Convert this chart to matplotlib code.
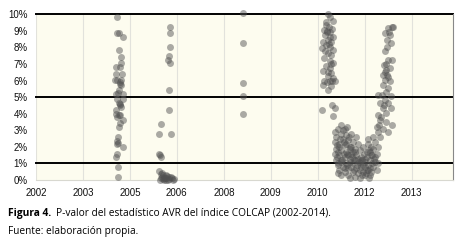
import matplotlib
matplotlib.use("Agg")
import matplotlib.pyplot as plt

# tick labels (evenly spaced on the axis, as in the original)
year_labels = ["2002", "2003", "2005", "2006", "2008", "2009", "2010", "2012", "2013"]
pct_ticks = list(range(0, 11))

# p-values in %, x is position along the axis (tick units)
x_2005 = [1.72, 1.72, 1.77, 1.85, 1.77, 1.82, 1.82, 1.70, 1.79, 1.70, 1.83, 1.73, 1.82, 1.68,
          1.79, 1.81, 1.80, 1.77, 1.70, 1.85, 1.75, 1.72, 1.86, 1.78, 1.78, 1.76, 1.70, 1.82,
          1.70, 1.77, 1.80, 1.73, 1.85, 1.78, 1.77, 1.75, 1.72, 1.75, 1.73, 1.85, 1.73, 1.71,
          1.75, 1.74]
y_2005 = [9.83, 8.85, 8.85, 8.65, 7.85, 7.4, 7.05, 6.8, 6.8, 6.4, 6.4, 6.05, 6.05, 6.05,
          5.8, 5.7, 5.9, 5.45, 5.2, 5.2, 5.25, 4.87, 4.87, 4.6, 4.5, 4.65, 4.2, 4.4,
          4.0, 3.95, 3.9, 3.8, 3.6, 3.45, 3.2, 2.6, 2.35, 2.25, 2.2, 2.0, 1.6, 1.4,
          0.8, 0.2]

x_2006 = [2.85, 2.85, 2.85, 2.84, 2.82, 2.85, 2.83, 2.84, 2.66, 2.62, 2.87, 2.63, 2.66, 2.64,
          2.63, 2.66, 2.69, 2.77, 2.84, 2.91, 2.73, 2.84, 2.64, 2.87, 2.94, 2.68, 2.71, 2.75,
          2.80, 2.89, 2.66, 2.78, 2.70, 2.72, 2.82, 2.76]
y_2006 = [9.25, 8.85, 8.03, 7.45, 7.25, 7.05, 5.45, 4.2, 3.4, 2.8, 2.8, 1.6, 1.4, 1.5,
          0.55, 0.35, 0.2, 0.1, 0.05, 0.0, 0.0, 0.2, 0.0, 0.2, 0.05, 0.45, 0.3, 0.15,
          0.25, 0.1, 0.1, 0.0, 0.05, 0.15, 0.0, 0.3]

x_2008 = [4.41, 4.41, 4.41, 4.41, 4.41]
y_2008 = [10.05, 8.25, 5.85, 5.05, 4.0]

x_2010 = [6.22, 6.25, 6.32, 6.18, 6.24, 6.13, 6.20, 6.27, 6.16, 6.32, 6.22, 6.11, 6.29, 6.18,
          6.25, 6.09, 6.32, 6.22, 6.29, 6.14, 6.25, 6.32, 6.18, 6.27, 6.11, 6.29, 6.22, 6.32,
          6.14, 6.25, 6.36, 6.11, 6.29, 6.22, 6.09, 6.30, 6.36, 6.32,
          6.20, 6.26, 6.15, 6.28, 6.21, 6.30, 6.19, 6.24, 6.30, 6.17]
y_2010 = [10.0, 9.85, 9.6, 9.35, 9.25, 9.05, 8.95, 8.95, 8.75, 8.65, 8.45, 8.35, 8.3, 8.15,
          8.05, 7.95, 7.85, 7.65, 7.55, 7.35, 7.15, 7.05, 6.85, 6.75, 6.55, 6.45, 6.25, 6.15,
          5.95, 5.95, 5.95, 5.7, 5.65, 5.45, 4.25, 4.55, 4.35, 3.85,
          9.0, 8.6, 7.8, 7.0, 6.5, 6.0, 5.9, 8.2, 9.1, 9.5]

x_2011 = [6.50, 6.43, 6.57, 6.37, 6.50, 6.61, 6.39, 6.54, 6.64, 6.36, 6.46, 6.57, 6.68, 6.39,
          6.50, 6.61, 6.36, 6.46, 6.57, 6.68, 6.39, 6.50, 6.61, 6.43, 6.54, 6.64, 6.46, 6.57,
          6.50, 6.43,
          6.71, 6.82, 6.75, 6.86, 6.79, 6.89, 6.96, 6.71, 6.82, 6.93, 6.68, 6.79, 6.89, 7.00,
          6.71, 6.82, 6.93, 6.75, 6.86, 6.96, 6.64, 6.79, 6.89, 6.68, 7.00,
          7.07, 7.18, 7.04, 7.14, 7.25, 7.00, 7.11, 7.21, 7.07, 7.18, 7.29, 7.04, 7.14, 7.25,
          7.11, 7.00,
          6.45, 6.55, 6.65, 6.75, 6.85, 6.95, 7.05, 7.15, 6.40, 6.52, 6.62, 6.72, 6.90, 7.02,
          7.20, 6.48, 6.60, 6.80, 6.98, 7.10, 6.42, 6.58, 6.70, 6.84, 6.95, 7.08, 6.78, 6.66,
          6.53, 6.62,
          6.44, 6.56, 6.68, 6.77, 6.88, 6.97, 7.06, 7.16, 6.49, 6.63, 6.74, 6.92, 7.12, 6.41]
y_2011 = [3.3, 3.1, 3.1, 2.9, 2.8, 2.7, 2.6, 2.5, 2.4, 2.3, 2.2, 2.1, 2.0, 1.9,
          1.8, 1.7, 1.6, 1.5, 1.4, 1.3, 1.2, 1.1, 1.0, 0.9, 0.8, 0.7, 0.6, 0.5,
          0.3, 0.4,
          2.8, 2.6, 2.3, 2.2, 1.9, 1.8, 2.0, 1.6, 1.5, 1.4, 1.1, 1.2, 1.0, 1.1,
          0.8, 0.7, 0.8, 0.5, 0.4, 0.5, 0.3, 0.2, 0.15, 0.1, 0.3,
          2.2, 1.9, 1.7, 1.5, 1.6, 1.3, 1.2, 1.1, 0.9, 0.8, 1.0, 0.6, 0.5, 0.6,
          0.3, 0.8,
          2.0, 1.6, 1.5, 1.0, 1.3, 1.2, 1.4, 1.0, 1.4, 1.2, 0.9, 1.4, 0.6, 0.4,
          1.3, 2.5, 2.2, 1.7, 1.6, 1.8, 1.0, 0.7, 2.0, 0.9, 0.3, 0.1, 0.6, 2.6,
          3.0, 3.2,
          1.7, 2.3, 1.9, 1.3, 1.1, 0.9, 0.6, 1.5, 1.2, 1.6, 1.7, 1.2, 0.7, 2.1]

x_2012 = [7.57, 7.50, 7.60, 7.44, 7.53, 7.48, 7.56, 7.43, 7.50, 7.59, 7.41, 7.46, 7.53, 7.39,
          7.48, 7.44, 7.53, 7.39, 7.50, 7.29, 7.36, 7.56, 7.43, 7.32, 7.50, 7.39, 7.56, 7.29,
          7.46, 7.32, 7.57, 7.25, 7.39, 7.29, 7.50, 7.18, 7.32, 7.21, 7.07, 7.14, 7.29, 7.11,
          7.21,
          7.46, 7.42, 7.50, 7.45, 7.40, 7.35, 7.45, 7.30, 7.52, 7.47]
y_2012 = [9.25, 9.15, 9.2, 8.85, 8.75, 8.45, 8.25, 7.75, 7.25, 7.25, 6.95, 6.65, 6.75, 6.35,
          6.35, 6.05, 5.95, 5.75, 5.55, 5.15, 5.15, 5.05, 4.85, 4.65, 4.65, 4.35, 4.35, 3.95,
          4.05, 3.6, 3.3, 3.2, 3.1, 2.9, 2.9, 2.6, 2.6, 2.3, 2.5, 2.0, 2.0, 1.7,
          1.4,
          7.0, 6.5, 6.2, 5.3, 4.5, 3.8, 3.5, 3.3, 8.9, 8.0]

fig = plt.figure(figsize=(4.6, 2.44), dpi=100)
ax = fig.add_axes([0.078, 0.262, 0.907, 0.680])
ax.set_facecolor("#fdfcef")

for xs, ys in [(x_2005, y_2005), (x_2006, y_2006), (x_2008, y_2008),
               (x_2010, y_2010), (x_2011, y_2011), (x_2012, y_2012)]:
    ax.scatter(xs, ys, s=25, color="#505050", alpha=0.48, linewidths=0,
               clip_on=False, zorder=3)

for lvl in [1, 5, 10]:
    ax.axhline(lvl, color="black", lw=1.4, zorder=2, clip_on=False)

ax.set_xlim(0, 8.88)
ax.set_ylim(0, 10)
ax.set_xticks(range(len(year_labels)))
ax.set_xticklabels(year_labels)
ax.set_yticks(pct_ticks)
ax.set_yticklabels([f"{t}%" for t in pct_ticks])
ax.grid(axis="x", color="#e2e2dc", lw=0.8, zorder=0)
ax.tick_params(length=0, labelsize=7, colors="#111111")
ax.tick_params(axis="y", pad=6)
ax.tick_params(axis="x", pad=6)
for lab in ax.get_xticklabels() + ax.get_yticklabels():
    lab.set_family("Liberation Sans")
for side in ["top", "left"]:
    ax.spines[side].set_visible(False)
ax.spines["bottom"].set_color("#d8d8d0")
ax.spines["right"].set_color("#888888")
ax.spines["right"].set_linewidth(0.8)

# caption
r = fig.canvas.get_renderer()
t1 = fig.text(0.017, 0.127, "Figura 4.", fontsize=7.4, fontweight="bold",
              family="Open Sans", va="center")
bb = t1.get_window_extent(r)
fig.text((bb.x1 + 5) / fig.bbox.width, 0.127,
         "P-valor del estadístico AVR del índice COLCAP (2002-2014).",
         fontsize=7.3, family="Open Sans", va="center")
fig.text(0.017, 0.053, "Fuente: elaboración propia.", fontsize=7.3,
         family="Open Sans", va="center")

fig.savefig("out.png", dpi=100)
